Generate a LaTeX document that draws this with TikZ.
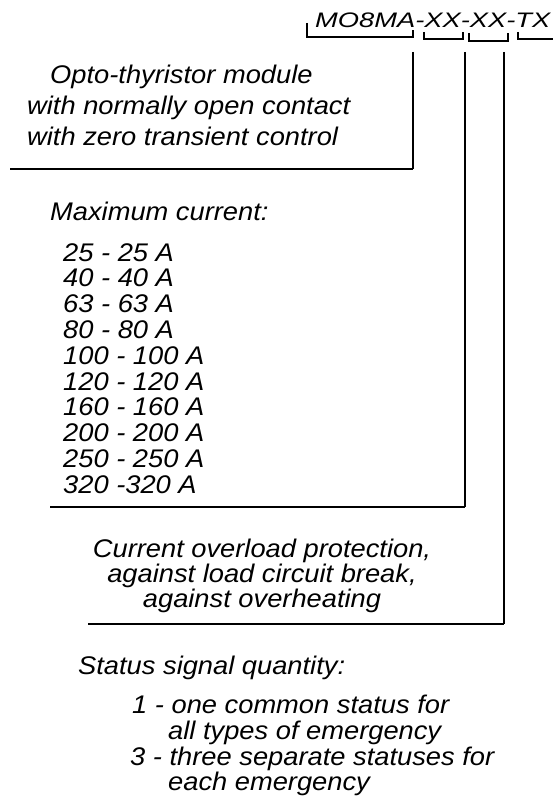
\documentclass[tikz,border=0pt]{standalone}
\usepackage{fontspec}
\newfontfamily\labelfont{Liberation Sans}[FakeStretch=1.07]
\newfontfamily\codefont{Liberation Sans}[FakeStretch=1.30]
\begin{document}
\begin{tikzpicture}[x=1pt,y=-1pt,
  txt/.style={anchor=base west,inner sep=0pt,font=\labelfont\itshape\fontsize{25.5}{26}\selectfont},
  ctxt/.style={txt,anchor=base},
  codetxt/.style={anchor=base west,inner sep=0pt,font=\codefont\itshape\fontsize{21}{22}\selectfont},
  bracket/.style={line width=1.4pt},
  leader/.style={line width=2pt},
  rule/.style={line width=2.4pt}]
\useasboundingbox (0,0) rectangle (552,800);

% type code
\node[codetxt] (code) at (315,28) {MO8MA-XX-XX-TX};

% brackets under the code segments
\draw[bracket] (307,23) |- (413,37) -- (413,30);
\draw[bracket] (424,32) |- (463,39) -- (463,32);
\draw[bracket] (469,33) |- (508,41) -- (508,33);
\draw[bracket] (518,32) |- (553,39);

% leader start points and corners
\coordinate (b1) at (412.5,52);
\coordinate (b2) at (465,52);
\coordinate (b3) at (504,52);
\coordinate (c1) at (412.5,169);
\coordinate (c2) at (465,507);
\coordinate (c3) at (504,624);
\coordinate (e1) at (10,169);
\coordinate (e2) at (50,507);
\coordinate (e3) at (88,624);

\draw[leader] (b1) -- (c1);
\draw[leader] (b2) -- (c2);
\draw[leader] (b3) -- (c3);
\draw[rule] (e1) -- (c1);
\draw[rule] (e2) -- (c2);
\draw[rule] (e3) -- (c3);

% module description
\node[txt] (d1) at (50,83)  {Opto-thyristor module};
\node[txt] (d2) at (27,114) {with normally open contact};
\node[txt] (d3) at (27,145) {with zero transient control};

% current ratings
\node[txt] (mc) at (50,220) {Maximum current:};
\foreach \t [count=\i from 0] in {25 - 25 A,40 - 40 A,63 - 63 A,80 - 80 A,100 - 100 A,120 - 120 A,160 - 160 A,200 - 200 A,250 - 250 A,320 -320 A}
  \node[txt] (r\i) at (63,261+25.8*\i) {\t};

% protection
\node[ctxt] (p1) at (262,557) {Current overload protection,};
\node[ctxt] (p2) at (262,582) {against load circuit break,};
\node[ctxt] (p3) at (262,607) {against overheating};

% status signals
\node[txt] (s0) at (78,674)  {Status signal quantity:};
\node[txt] (s1) at (132,713) {1 - one common status for};
\node[txt] (s2) at (168,739) {all types of emergency};
\node[txt] (s3) at (130,765) {3 - three separate statuses for};
\node[txt] (s4) at (168,790) {each emergency};
\end{tikzpicture}
\end{document}
